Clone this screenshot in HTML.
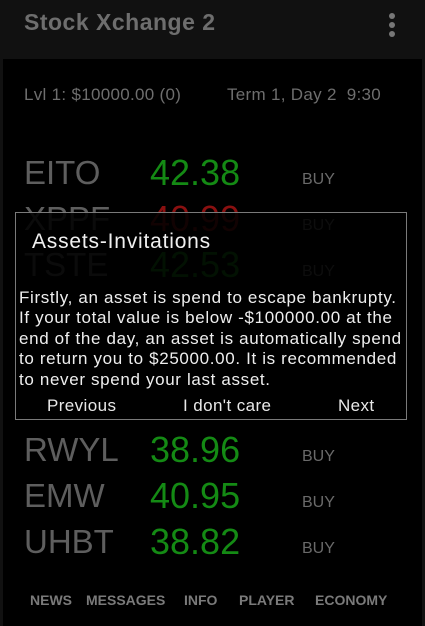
<!DOCTYPE html>
<html><head><meta charset="utf-8"><style>
*{margin:0;padding:0;box-sizing:border-box}
body{width:425px;height:626px;background:#000;font-family:"Liberation Sans",sans-serif;position:relative;overflow:hidden}
.abs{position:absolute;white-space:nowrap}
#hdr{left:0;top:0;width:425px;height:59px;background:#111}
#frameL{left:0;top:59px;width:3px;height:567px;background:#111}
#frameR{right:0;top:59px;width:3px;height:567px;background:#111}
.sym{left:24px;font-size:33px;color:#5e5e5e;line-height:40px}
.pr{left:150px;font-size:36px;line-height:40px}
.buy{left:302px;font-size:16px;color:#6a6a6a;line-height:20px}
.g{color:#148a14}.r{color:#8a1010}
.nav{top:592px;font-size:14px;color:#7a7a7a;font-weight:bold;line-height:16px}
#dlg{left:15px;top:212px;width:392px;height:208px;border:1px solid #7a7a7a;background:rgba(0,0,0,0.88)}
.bt{font-size:17px;color:#e8e8e8;line-height:20px;letter-spacing:0.4px}
.ln{left:19px;font-size:17px;color:#eee;line-height:20px;letter-spacing:0.65px}
.st{font-size:17px;color:#6e6e6e;letter-spacing:0.3px}
</style></head><body>
<div class="abs" id="hdr"></div>
<div class="abs" style="left:24px;top:9px;font-size:23px;font-weight:bold;color:#6e6e6e;letter-spacing:0.5px">Stock Xchange 2</div>
<div class="abs" style="left:389px;top:13px;width:6px;height:24px">
<div style="width:6px;height:6px;border-radius:3px;background:#777;margin-bottom:3px"></div><div style="width:6px;height:6px;border-radius:3px;background:#777;margin-bottom:3px"></div><div style="width:6px;height:6px;border-radius:3px;background:#777"></div></div>
<div class="abs" id="frameL"></div>
<div class="abs" id="frameR"></div>
<div class="abs st" style="left:24px;top:85px">Lvl 1: $10000.00 (0)</div>
<div class="abs st" style="left:227px;top:85px">Term 1, Day 2&nbsp;&nbsp;9:30</div>

<div class="abs sym" style="top:153px">EITO</div>
<div class="abs pr g" style="top:153px">42.38</div>
<div class="abs buy" style="top:170px">BUY</div>
<div class="abs sym" style="top:199px">XPPF</div>
<div class="abs pr r" style="top:199px">40.99</div>
<div class="abs buy" style="top:216px">BUY</div>
<div class="abs sym" style="top:245px">TSTE</div>
<div class="abs pr g" style="top:245px">42.53</div>
<div class="abs buy" style="top:262px">BUY</div>
<div class="abs sym" style="top:430px">RWYL</div>
<div class="abs pr g" style="top:430px">38.96</div>
<div class="abs buy" style="top:447px">BUY</div>
<div class="abs sym" style="top:476px">EMW</div>
<div class="abs pr g" style="top:476px">40.95</div>
<div class="abs buy" style="top:493px">BUY</div>
<div class="abs sym" style="top:522px">UHBT</div>
<div class="abs pr g" style="top:522px">38.82</div>
<div class="abs buy" style="top:539px">BUY</div>

<div class="abs" id="dlg"></div>
<div class="abs" style="left:32px;top:230px;font-size:21px;color:#f0f0f0;letter-spacing:0.8px">Assets-Invitations</div>
<div class="abs ln" style="top:288px">Firstly, an asset is spend to escape bankrupty.</div>
<div class="abs ln" style="top:308px">If your total value is below -$100000.00 at the</div>
<div class="abs ln" style="top:329px">end of the day, an asset is automatically spend</div>
<div class="abs ln" style="top:349px">to return you to $25000.00. It is recommended</div>
<div class="abs ln" style="top:370px">to never spend your last asset.</div>
<div class="abs bt" style="left:47px;top:396px">Previous</div>
<div class="abs bt" style="left:183px;top:396px">I don't care</div>
<div class="abs bt" style="left:338px;top:396px">Next</div>

<div class="abs nav" style="left:30px">NEWS</div>
<div class="abs nav" style="left:86px">MESSAGES</div>
<div class="abs nav" style="left:184px">INFO</div>
<div class="abs nav" style="left:239px">PLAYER</div>
<div class="abs nav" style="left:315px">ECONOMY</div>
</body></html>
